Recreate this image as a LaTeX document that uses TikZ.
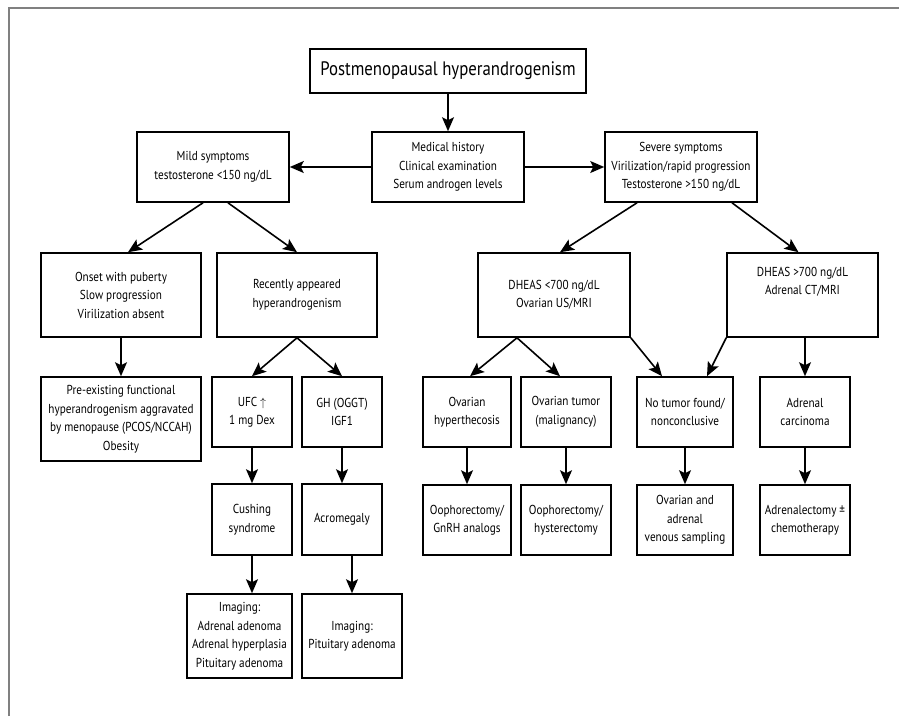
\documentclass[tikz,border=0pt]{standalone}
\usepackage{fontspec}
\setmainfont{PT Sans}[FakeStretch=0.86]
\usetikzlibrary{arrows.meta,positioning}

\begin{document}
\begin{tikzpicture}[x=1pt,y=-1pt,
  box/.style={draw=black, line width=1.6pt, align=center, inner sep=1pt,
    font=\fontsize{13}{18.5}\selectfont},
  arr/.style={-{Stealth[length=14pt,width=12pt,inset=3pt]}, line width=1.6pt}]
  \useasboundingbox (0,0) rectangle (899,716);
  \draw [line width=1.8pt, gray] (9,716) -- (9,8) -- (899,8);

  % top of the chart
  \node (T) [box, minimum width=276pt, minimum height=44pt, font=\fontsize{19.5}{22}\selectfont] at (448,71) {Postmenopausal hyperandrogenism};
  \node (M) [box, minimum width=152pt, minimum height=70pt] at (448,167) {Medical history\\Clinical examination\\Serum androgen levels};
  \node (Mi) [box, minimum width=152pt, minimum height=70pt] at (213,167) {Mild symptoms\\testosterone <150 ng/dL};
  \node (S) [box, minimum width=152pt, minimum height=70pt] at (681,167) {Severe symptoms\\Virilization/rapid progression\\Testosterone >150 ng/dL};

  % second row
  \node (On) [box, minimum width=160pt, minimum height=84pt] at (121,295) {Onset with puberty\\Slow progression\\Virilization absent};
  \node (Re) [box, minimum width=160pt, minimum height=84pt] at (297,295) {Recently appeared\\hyperandrogenism};
  \node (DL) [box, minimum width=152pt, minimum height=84pt] at (554,295) {DHEAS <700 ng/dL\\Ovarian US/MRI};
  \node (DH) [box, minimum width=151pt, minimum height=84pt] at (802.5,295) {DHEAS >700 ng/dL\\Adrenal CT/MRI\\[10pt]};

  % third row
  \node (Pre) [box, minimum width=160pt, minimum height=84pt] at (121,419) {Pre-existing functional\\hyperandrogenism aggravated\\by menopause (PCOS/NCCAH)\\Obesity};
  \node (UFC) [box, minimum width=80pt, minimum height=70pt] at (252,412) {UFC $\uparrow$\\1 mg Dex};
  \node (GH) [box, minimum width=80pt, minimum height=70pt] at (342,412) {GH (OGGT)\\IGF1};
  \node (OH) [box, minimum width=88pt, minimum height=70pt] at (467,412) {Ovarian\\hyperthecosis};
  \node (OT) [box, minimum width=90pt, minimum height=70pt] at (566,412) {Ovarian tumor\\(malignancy)};
  \node (NT) [box, minimum width=96pt, minimum height=70pt] at (685,412) {No tumor found/\\nonconclusive};
  \node (AC) [box, minimum width=90pt, minimum height=70pt] at (805,412) {Adrenal\\carcinoma};

  % fourth row
  \node (OG) [box, minimum width=88pt, minimum height=70pt] at (467,520) {Oophorectomy/\\GnRH analogs};
  \node (OHy) [box, minimum width=90pt, minimum height=70pt] at (566,520) {Oophorectomy/\\hysterectomy};
  \node (OV) [box, minimum width=96pt, minimum height=70pt] at (685,520) {Ovarian and\\adrenal\\venous sampling};
  \node (AD) [box, minimum width=90pt, minimum height=70pt] at (805,520) {Adrenalectomy ±\\chemotherapy};
  \node (Cu) [box, minimum width=80pt, minimum height=71pt] at (252,519.5) {Cushing\\syndrome};
  \node (Ac) [box, minimum width=80pt, minimum height=71pt] at (342,519.5) {Acromegaly};

  % imaging
  \node (CuI) [box, minimum width=105pt, minimum height=84pt] at (239.5,636) {Imaging:\\Adrenal adenoma\\Adrenal hyperplasia\\Pituitary adenoma};
  \node (AcI) [box, minimum width=100pt, minimum height=84pt] at (352,636) {Imaging:\\Pituitary adenoma};

  \path [arr]
  (T) edge (M)
  (M) edge (Mi)
  (M) edge (S)
  ([xshift=-10pt]Mi.south) edge ([xshift=7pt]On.north)
  ([xshift=15pt]Mi.south) edge (Re.north)
  ([xshift=-44pt]S.south) edge ([xshift=6pt]DL.north)
  ([xshift=51pt]S.south) edge ([xshift=-4pt]DH.north)
  (On) edge (Pre)
  (Re.south) edge (UFC.north)
  (Re.south) edge (GH.north)
  (UFC) edge (Cu)
  (GH) edge (Ac)
  (Cu.south) edge (Cu.south |- CuI.north)
  (AcI.north |- Ac.south) edge (AcI.north)
  ([xshift=-37pt]DL.south) edge ([xshift=3pt]OH.north)
  ([xshift=-37pt]DL.south) edge ([xshift=-6pt]OT.north)
  (DL.south east) edge ([xshift=-23pt]NT.north)
  (DH.south west) edge ([xshift=22pt]NT.north)
  (AC.north |- DH.south) edge (AC.north)
  (OH) edge (OG)
  (OT) edge (OHy)
  (NT) edge (OV)
  (AC) edge (AD);
\end{tikzpicture}
\end{document}
